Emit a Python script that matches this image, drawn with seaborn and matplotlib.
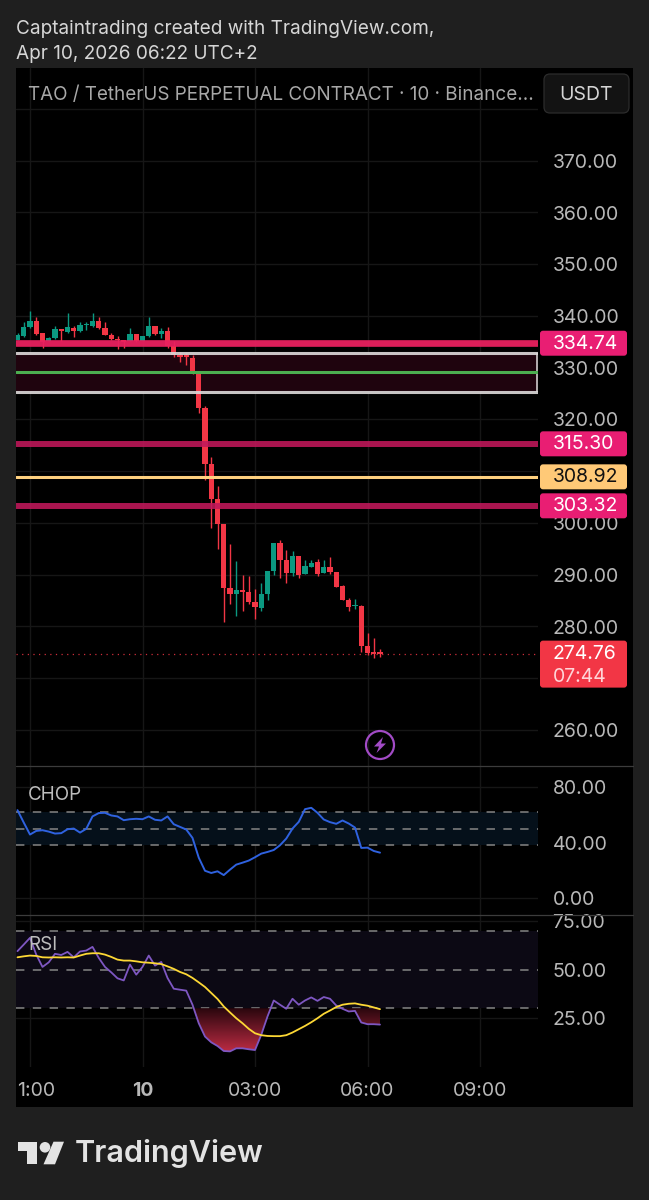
import numpy as np
import pandas as pd
import seaborn as sns
import matplotlib
matplotlib.use("Agg")
import matplotlib.pyplot as plt
from matplotlib.patches import FancyBboxPatch, Rectangle, Circle, Polygon
from matplotlib.path import Path
from matplotlib.transforms import Affine2D, ScaledTranslation
from matplotlib.lines import Line2D
from matplotlib.colors import LinearSegmentedColormap

# ---------- data ----------
opens = [335.35,336.13,337.80,339.09,336.64,335.22,335.68,337.42,336.97,337.74,337.03,338.19,338.13,338.96,337.61,336.32,335.55,335.35,335.22,336.51,335.22,336.13,338.06,336.51,337.16,334.19,332.45,332.45,331.87,328.91,322.14,311.37,
         304.73,299.77,287.46,286.23,287.00,286.62,284.75,283.65,286.23,290.74,296.16,292.94,290.42,293.65,290.10,291.58,292.42,290.42,291.52,290.62,287.78,285.07,284.04,284.04,276.17,275.01,275.01]
highs = [336.64,338.90,340.96,339.74,336.64,335.87,338.06,337.48,340.51,338.06,338.90,338.90,340.51,339.74,338.90,336.64,336.19,335.35,337.61,336.51,336.19,339.74,338.06,337.61,337.93,335.22,333.10,332.90,332.45,328.91,322.59,312.79,
         307.12,299.77,295.90,292.61,289.91,289.71,287.20,288.42,290.74,296.16,296.80,294.74,294.55,293.65,292.81,292.94,293.07,292.81,293.45,290.62,288.10,285.59,285.26,284.23,278.75,277.79,275.59]
lows = [335.35,336.00,337.61,336.32,333.87,335.22,335.48,335.22,336.64,336.00,336.97,337.29,337.93,337.48,336.32,335.35,333.55,333.87,335.22,335.03,335.22,335.87,336.32,335.80,333.87,332.13,331.16,330.52,328.78,321.30,308.28,299.12,
        295.06,280.88,284.43,282.04,283.01,284.43,281.52,283.01,285.07,289.91,289.39,288.49,289.71,289.46,290.10,291.52,289.84,290.36,290.10,287.65,285.07,282.94,283.33,275.14,274.50,273.98,274.11]
closes = [336.32,337.93,339.09,336.51,335.03,335.68,337.42,337.16,337.80,337.09,338.25,338.38,339.03,337.61,336.32,335.55,335.29,335.03,336.51,335.22,336.19,338.06,336.51,337.09,334.19,332.45,332.13,332.13,329.04,322.14,311.37,304.60,
          299.77,287.46,286.23,287.00,286.68,284.68,283.72,286.23,290.74,296.16,292.81,290.42,293.58,290.04,291.65,292.29,290.23,291.52,290.62,287.71,285.07,283.72,284.23,276.17,274.88,274.76,274.76]

chop = [63.4,54.5,45.9,48.5,49.0,48.0,46.6,46.9,49.7,50.2,47.3,50.0,58.9,61.3,61.5,59.6,58.9,56.2,56.9,57.2,56.9,58.9,56.5,56.0,58.9,53.3,51.4,49.5,43.5,29.3,19.9,18.3,19.5,16.8,20.7,24.3,25.7,27.2,29.6,32.2,33.4,34.8,38.2,43.0,50.2,55.0,64.1,65.1,61.5,56.7,54.8,53.6,56.0,53.8,50.9,36.3,36.5,34.1,32.9]
rsi = [59.6,63.0,66.5,57.8,51.4,53.8,58.2,57.6,59.2,56.4,59.4,59.9,61.8,56.1,51.4,48.6,45.5,44.4,52.6,47.4,51.4,57.3,52.1,54.0,45.7,40.1,39.6,39.1,31.8,22.2,15.3,12.3,10.4,7.8,7.6,9.2,9.2,8.7,8.3,16.2,25.7,34.0,31.8,29.7,34.9,31.8,34.0,35.6,33.8,35.8,34.9,31.4,29.7,28.3,28.6,22.6,21.7,21.7,21.5]
rsi_ma = [56.4,56.9,57.3,57.1,56.4,56.3,56.4,56.3,56.4,56.3,57.3,58.2,58.5,58.5,57.8,56.6,55.2,54.7,54.7,54.3,53.8,53.6,53.3,52.9,51.7,50.4,48.8,47.6,45.7,43.4,41.0,37.9,34.8,30.9,27.8,24.8,22.2,19.3,17.0,16.0,15.6,15.5,15.5,16.0,17.4,19.1,20.8,22.7,24.8,27.1,28.8,30.6,31.8,32.3,32.5,31.8,31.3,30.4,29.5]

bars = np.arange(len(opens)) - 2   # bar index; 0 is the 01:00 bar (10-minute bars)
time_ticks = [0, 18, 36, 54, 72]
time_labels = ["1:00", "10", "03:00", "06:00", "09:00"]

price_ticks = [260, 270, 280, 290, 300, 310, 320, 330, 340, 350, 360, 370, 380]
price_hidden = [270, 310, 380]
chop_ticks = [0, 40, 80]
rsi_ticks = [25, 50, 75]

level_top, level_mid, level_bottom = 332.77, 329.16, 325.36
level_a, level_b, level_c, level_d = 334.74, 315.30, 308.92, 303.32
last_price = 274.76
countdown = "07:44"

# ---------- style ----------
sns.set_theme(style="dark", rc={"axes.facecolor": "black", "figure.facecolor": "#1f1f1f"})
plt.rcParams["font.family"] = ["Inter", "DejaVu Sans"]

OUTER = "#1f1f1f"; GRID = "#161616"; TXT = "#b8b8b8"; TXT2 = "#d6d6d6"
RED = "#f23645"; GREEN = "#0b9981"; PINK = "#e91e73"; DPINK = "#b81b62"
AXFS = 14

fig = plt.figure(figsize=(6.49, 12.0), dpi=100, facecolor=OUTER)
T = Affine2D().scale(1 / 649, -1 / 1200).translate(0, 1) + fig.transFigure

def pane(top, bottom):
    return fig.add_axes([16 / 649, 1 - bottom / 1200, 522 / 649, (bottom - top) / 1200])

def label(x, y, s, **kw):
    fig.text(x / 649, 1 - y / 1200, s, va="center", **kw)

ax1 = pane(68, 766)
ax2 = pane(766, 914.5)
ax3 = pane(914.5, 1067)

fig.add_artist(Rectangle((16, 68), 617, 1039, transform=T, fc="black", ec="none", zorder=-1))

XLIM = (-2.24, 81.28)
for ax in (ax1, ax2, ax3):
    for s in ax.spines.values():
        s.set_visible(False)
    ax.grid(True, color=GRID, lw=1)
    ax.set_axisbelow(True)
    ax.yaxis.tick_right()
    ax.set_xticks(time_ticks)
    ax.set_xticklabels([])
    ax.tick_params(length=0, colors=TXT, labelsize=AXFS)
    ax.tick_params(axis="y", pad=10.5)
    ax.set_xlabel(""); ax.set_ylabel("")

# ---------- price pane ----------
ax1.vlines(bars, lows, highs, colors=[GREEN if c >= o else RED for o, c in zip(opens, closes)], lw=1.0, zorder=3)
bodies = np.array(closes) - np.array(opens)
ax1.bar(bars, bodies, bottom=opens, width=0.86,
        color=[GREEN if b >= 0 else RED for b in bodies], linewidth=0, zorder=4)

ax1.axhspan(level_bottom, level_top, color="#1f040e", lw=0, zorder=2)
ax1.vlines(XLIM[1] - 0.1, level_bottom, level_top, color="#cfcccc", lw=1.2, zorder=5)
ax1.axhline(level_top, color="#d9d6d6", lw=2.2, alpha=.92, zorder=5)
ax1.axhline(level_mid, color="#4caf50", lw=2.2, zorder=5)
ax1.axhline(level_bottom, color="#d9d6d6", lw=2.2, alpha=.92, zorder=5)
ax1.axhline(level_a, color="#e8205f", lw=4.8, alpha=.95, zorder=5)
ax1.axhline(level_b, color="#c2185b", lw=4.3, alpha=.88, zorder=5)
ax1.axhline(level_c, color="#ffd180", lw=2.2, zorder=5)
ax1.axhline(level_d, color="#c2185b", lw=4.3, alpha=.88, zorder=5)
ax1.axhline(last_price, color=RED, lw=0.9, ls=(0, (1, 3.5)), alpha=.85, zorder=5)

ax1.set_yticks(price_ticks)
ax1.set_yticklabels(["" if t in price_hidden else f"{t:.2f}" for t in price_ticks])
ax1.set_ylim(340 - (766 - 316) / 5.175, 340 + (316 - 68) / 5.175)
ax1.set_xlim(*XLIM)

# ---------- CHOP pane ----------
ax2.axhspan(38.2, 61.8, color="#05101a", lw=0, zorder=1)
for v in (61.8, 50, 38.2):
    ax2.axhline(v, color="#858585", lw=1.1, ls=(0, (5.5, 5.5)), zorder=2)
sns.lineplot(x=bars, y=chop, ax=ax2, color="#2f62e0", lw=1.4, estimator=None, zorder=4, legend=False)
ax2.set_yticks(chop_ticks)
ax2.set_yticklabels([f"{t:.2f}" for t in chop_ticks])
ax2.set_ylim(-11.5, 95.1)
ax2.set_xlim(*XLIM)
ax2.set_xlabel(""); ax2.set_ylabel("")
label(28, 794.5, "CHOP", color="#bdbdbd", fontsize=13.6, zorder=6)

# ---------- RSI pane ----------
ax3.axhspan(30, 70, color="#0c0914", lw=0, zorder=1)
for v in (70, 50, 30):
    ax3.axhline(v, color="#858585", lw=1.1, ls=(0, (5.5, 5.5)), zorder=2)
fill = ax3.fill_between(bars, rsi, 30, where=np.array(rsi) < 30, interpolate=True, color="none", lw=0, zorder=2)
cmap = LinearSegmentedColormap.from_list("osc", ["#c02c44", "#2a070e"])
im = ax3.imshow(np.linspace(0, 1, 64).reshape(-1, 1), extent=[XLIM[0], XLIM[1], 7, 30], origin="lower",
                aspect="auto", cmap=cmap, zorder=3)
clip = Path.make_compound_path(*fill.get_paths())
im.set_clip_path(clip, transform=ax3.transData)
sns.lineplot(x=bars, y=rsi, ax=ax3, color="#7e57c2", lw=1.3, estimator=None, zorder=4, legend=False)
sns.lineplot(x=bars, y=rsi_ma, ax=ax3, color="#fdd835", lw=1.3, estimator=None, zorder=5, legend=False)
ax3.set_yticks(rsi_ticks)
ax3.set_yticklabels([f"{t:.2f}" for t in rsi_ticks])
ax3.set_ylim(-0.5, 78.6)
ax3.set_xlim(*XLIM)
ax3.set_xlabel(""); ax3.set_ylabel("")
label(28, 944.5, "RSI", color="#bdbdbd", fontsize=13.6, zorder=6)

ax3.set_xticklabels(time_labels)
ax3.tick_params(axis="x", pad=11, colors=TXT, labelsize=AXFS)
ticklabels = ax3.get_xticklabels()
ticklabels[1].set_fontweight("bold")
ticklabels[0].set_transform(ticklabels[0].get_transform() + ScaledTranslation(6 / 100, 0, fig.dpi_scale_trans))

# dividers
for y in (766, 914.5):
    fig.add_artist(Line2D([16, 633], [y, y], transform=T, color="#3c3c3c", lw=0.9, zorder=7))

# ---------- price labels ----------
def ypix(v):
    return 316 + (340 - v) * 5.175

def pill(y0, y1, color):
    fig.add_artist(FancyBboxPatch((542, y0 + 2), 83, y1 - y0 - 4, boxstyle="round,pad=2,rounding_size=3",
                                  transform=T, fc=color, ec="none", zorder=8))

for v, col, tc in [(level_a, PINK, "white"), (level_b, PINK, "white"), (level_c, "#ffc977", "#111111"), (level_d, PINK, "white")]:
    y = ypix(v)
    pill(y - 12.5, y + 12.5, col)
    label(553, y + .5, f"{v:.2f}", color=tc, fontsize=AXFS, zorder=9)

y = ypix(last_price)
pill(y - 13, y + 34, RED)
label(553, y + .5, f"{last_price:.2f}", color="white", fontsize=AXFS, zorder=9)
label(553, y + 23, countdown, color="#ffd5d8", fontsize=AXFS, zorder=9)

# ---------- header ----------
label(16, 28.5, "Captaintrading created with TradingView.com,", color=TXT2, fontsize=13.7)
label(16, 54, "Apr 10, 2026 06:22 UTC+2", color=TXT2, fontsize=13.7)
label(28, 95.5, "TAO / TetherUS PERPETUAL CONTRACT · 10 · Binance...", color="#a8a8a8", fontsize=13.6, zorder=6)
fig.add_artist(FancyBboxPatch((547, 77), 79, 33, boxstyle="round,pad=3,rounding_size=6", transform=T,
                              fc="#131313", ec="#2c2c2c", lw=0.9, zorder=6))
fig.text(586 / 649, 1 - 95 / 1200, "USDT", color=TXT2, fontsize=AXFS, va="center", ha="center", zorder=7)

# ---------- lightning icon ----------
PURPLE = "#a24bc6"
fig.add_artist(Circle((380, 745), 14, transform=T, fc="none", ec=PURPLE, lw=1.6, zorder=7))
fig.add_artist(Polygon([(383, 737), (374, 746.5), (379, 746.5), (376.5, 753), (386, 743.5), (381, 743.5)],
                       closed=True, transform=T, fc=PURPLE, ec="none", zorder=7))

# ---------- logo ----------
LOGO = "#e3e3e3"
fig.add_artist(Polygon([(18.3, 1141.7), (37.3, 1141.7), (37.3, 1164.3), (27.3, 1164.3), (27.3, 1150.7), (18.3, 1150.7)],
                       closed=True, transform=T, fc=LOGO, ec="none"))
fig.add_artist(Circle((45, 1147.3), 5.3, transform=T, fc=LOGO, ec="none"))
fig.add_artist(Polygon([(53.5, 1141.7), (64, 1141.7), (55, 1164.3), (43.5, 1164.3)], closed=True, transform=T, fc=LOGO, ec="none"))
label(75, 1153, "TradingView", color=LOGO, fontsize=22, fontweight="semibold")

fig.savefig("out.png", dpi=100, facecolor=OUTER)
